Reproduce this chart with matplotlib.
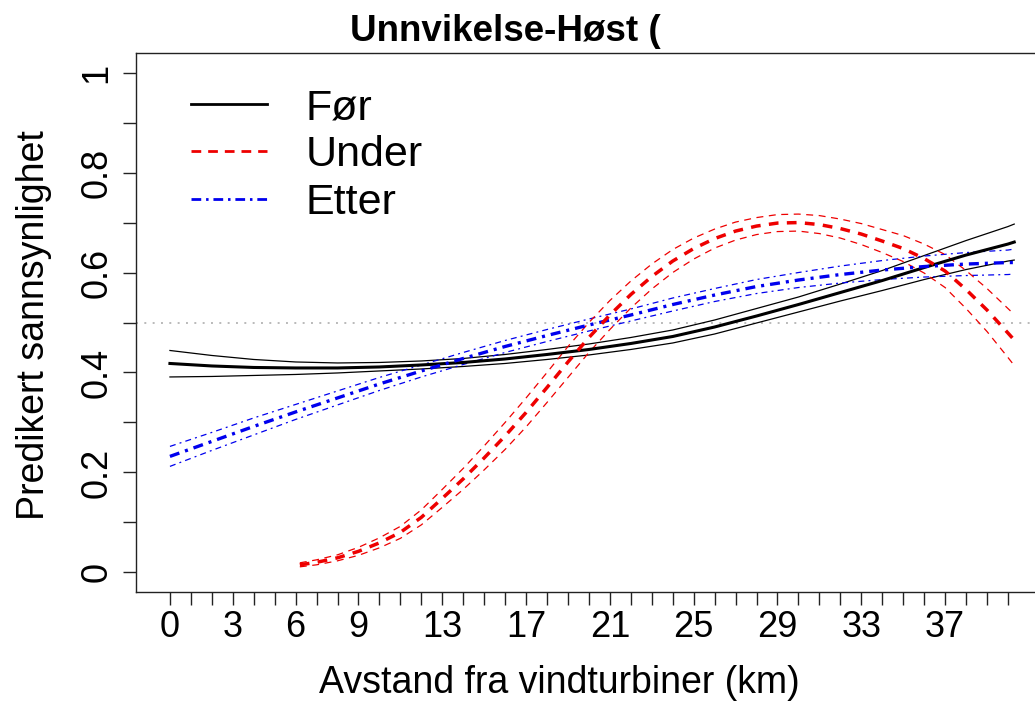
import matplotlib
matplotlib.use('Agg')
import matplotlib.pyplot as plt
from matplotlib.lines import Line2D

# ---------------- data ----------------
x_common = [0, 2, 4, 6, 8, 10, 12, 14, 16, 18, 20, 22, 24, 26, 28, 30, 32, 34, 36, 38, 40, 40.3]

for_mid = [0.418, 0.413, 0.410, 0.409, 0.409, 0.411, 0.415, 0.420, 0.427, 0.436, 0.446,
           0.458, 0.472, 0.491, 0.513, 0.536, 0.560, 0.584, 0.610, 0.635, 0.657, 0.661]
for_lo = [0.391, 0.392, 0.394, 0.396, 0.399, 0.403, 0.407, 0.412, 0.418, 0.426, 0.435,
          0.446, 0.459, 0.477, 0.499, 0.521, 0.543, 0.564, 0.586, 0.606, 0.623, 0.625]
for_hi = [0.444, 0.434, 0.426, 0.421, 0.419, 0.420, 0.423, 0.428, 0.436, 0.446, 0.457,
          0.470, 0.485, 0.505, 0.528, 0.551, 0.577, 0.604, 0.634, 0.664, 0.692, 0.697]

etter_mid = [0.232, 0.262, 0.292, 0.321, 0.349, 0.377, 0.403, 0.428, 0.452, 0.474, 0.495,
             0.515, 0.536, 0.555, 0.572, 0.585, 0.596, 0.605, 0.612, 0.617, 0.620, 0.620]
etter_lo = [0.212, 0.244, 0.275, 0.306, 0.335, 0.364, 0.391, 0.416, 0.440, 0.462, 0.483,
            0.503, 0.523, 0.542, 0.558, 0.570, 0.579, 0.586, 0.591, 0.594, 0.596, 0.597]
etter_hi = [0.252, 0.280, 0.309, 0.336, 0.363, 0.390, 0.415, 0.440, 0.464, 0.486, 0.507,
            0.527, 0.549, 0.568, 0.586, 0.600, 0.613, 0.624, 0.633, 0.640, 0.645, 0.647]

x_under = [6.2, 7, 8, 9, 10, 11, 12, 13, 14, 15, 16, 17, 18, 19, 20, 21, 22, 23, 24, 25,
           26, 27, 28, 29, 30, 31, 32, 33, 34, 35, 36, 37, 38, 39, 40, 40.3]
under_mid = [0.015, 0.020, 0.029, 0.042, 0.059, 0.080, 0.110, 0.148, 0.187, 0.229, 0.273,
             0.320, 0.370, 0.421, 0.470, 0.515, 0.556, 0.592, 0.623, 0.648, 0.668, 0.683,
             0.693, 0.699, 0.700, 0.696, 0.688, 0.677, 0.663, 0.648, 0.628, 0.603, 0.566,
             0.525, 0.479, 0.465]
under_lo = [0.011, 0.015, 0.023, 0.034, 0.049, 0.068, 0.095, 0.130, 0.166, 0.205, 0.246,
            0.291, 0.340, 0.390, 0.440, 0.486, 0.529, 0.567, 0.600, 0.627, 0.649, 0.665,
            0.676, 0.682, 0.683, 0.678, 0.669, 0.656, 0.640, 0.622, 0.599, 0.570, 0.528,
            0.482, 0.430, 0.414]
under_hi = [0.019, 0.025, 0.035, 0.050, 0.069, 0.092, 0.125, 0.166, 0.208, 0.253, 0.300,
            0.349, 0.400, 0.452, 0.500, 0.544, 0.583, 0.617, 0.646, 0.669, 0.687, 0.701,
            0.710, 0.716, 0.717, 0.714, 0.707, 0.698, 0.686, 0.674, 0.657, 0.636, 0.604,
            0.568, 0.528, 0.516]

x_ticks = list(range(0, 41))
x_ticklabels_shown = [0, 3, 6, 9, 13, 17, 21, 25, 29, 33, 37]
y_ticks = [0.0, 0.1, 0.2, 0.3, 0.4, 0.5, 0.6, 0.7, 0.8, 0.9, 1.0]
y_ticklabels_shown = {0.0: "0", 0.2: "0.2", 0.4: "0.4", 0.6: "0.6", 0.8: "0.8", 1.0: "1"}

series_names = ["Før", "Under", "Etter"]
title_text = "Unnvikelse-Høst ("
xlabel_text = "Avstand fra vindturbiner (km)"
ylabel_text = "Predikert sannsynlighet"

# ---------------- figure ----------------
plt.rcParams['font.family'] = ['Liberation Sans', 'DejaVu Sans']
plt.rcParams['lines.scale_dashes'] = False

W, H = 1035, 702
fig = plt.figure(figsize=(W / 100, H / 100), dpi=100)
ppu_x = 20.95
x_left, x_right = -1.62, 42.0
ax = fig.add_axes([136 / W, (H - 592.3) / H, (x_right - x_left) * ppu_x / W, 539.6 / H])
ax.set_xlim(x_left, x_right)
ax.set_ylim(-0.04, 1.04)

for side in ['left', 'bottom', 'top']:
    ax.spines[side].set_linewidth(1.0)
    ax.spines[side].set_color('#222222')
ax.spines['right'].set_visible(False)

# reference line
ax.axhline(0.5, color='#b4b4b4', linewidth=1.3, linestyle=(0, (1.4, 4.6)), zorder=1)

thick_dash = (0, (7.0, 6.0))
thin_dash = (0, (5.0, 4.0))
thick_dotdash = (0, (7.2, 4.3, 2.2, 4.3))
thin_dotdash = (0, (4.3, 3.0, 1.4, 3.0))

# Før
ax.plot(x_common, for_lo, color='black', lw=0.9, zorder=3)
ax.plot(x_common, for_hi, color='black', lw=0.9, zorder=3)
ax.plot(x_common, for_mid, color='black', lw=2.2, zorder=4)
# Etter
ax.plot(x_common, etter_lo, color='#0000ee', lw=0.9, linestyle=thin_dotdash, zorder=3)
ax.plot(x_common, etter_hi, color='#0000ee', lw=0.9, linestyle=thin_dotdash, zorder=3)
ax.plot(x_common, etter_mid, color='#0000ee', lw=2.4, linestyle=thick_dotdash, zorder=4)
# Under
ax.plot(x_under, under_lo, color='#ee0000', lw=0.9, linestyle=thin_dash, zorder=3)
ax.plot(x_under, under_hi, color='#ee0000', lw=0.9, linestyle=thin_dash, zorder=3)
ax.plot(x_under, under_mid, color='#ee0000', lw=2.5, linestyle=thick_dash, zorder=4)

# ticks
ax.set_xticks(x_ticks)
ax.set_xticklabels([str(v) if v in x_ticklabels_shown else "" for v in x_ticks])
ax.set_yticks(y_ticks)
ax.set_yticklabels([y_ticklabels_shown.get(round(v, 1), "") for v in y_ticks])
ax.tick_params(axis='x', length=9.4, width=1.0, pad=3.5, labelsize=26, color='#222222')
ax.tick_params(axis='y', length=9.4, width=1.0, pad=6, labelsize=26, color='#222222',
               labelrotation=90)
for lab in ax.get_yticklabels():
    lab.set_verticalalignment('center')

# labels
fig.text(559 / W, 9 / H, xlabel_text, ha='center', va='baseline', fontsize=27)
fig.text(34 / W, (H - 325) / H, ylabel_text, ha='center', va='center', rotation=90,
         fontsize=27)
fig.text(350 / W, (H - 41) / H, title_text, ha='left', va='baseline', fontsize=26.5,
         fontweight='bold')

# legend
handles = [
    Line2D([], [], color='black', lw=2.0),
    Line2D([], [], color='#ee0000', lw=2.0, linestyle=(0, (7.0, 5.0))),
    Line2D([], [], color='#0000ee', lw=2.0, linestyle=(0, (7.0, 3.5, 1.8, 3.5))),
]
leg = ax.legend(handles, series_names, loc='upper left', frameon=False, fontsize=31,
                handlelength=1.77, handletextpad=0.9, labelspacing=0.17,
                borderaxespad=0, borderpad=0,
                bbox_to_anchor=(191 / W, (H - 88) / H), bbox_transform=fig.transFigure)

fig.savefig('out.png', dpi=100)
